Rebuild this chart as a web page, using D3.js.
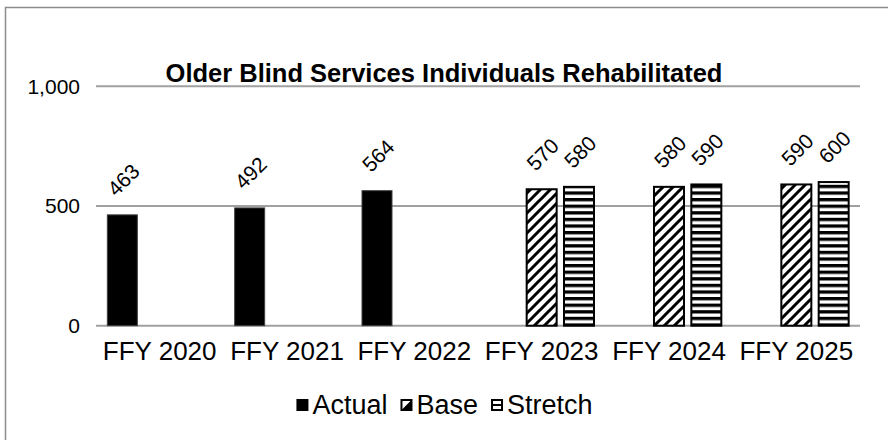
<!DOCTYPE html>
<html>
<head>
<meta charset="utf-8">
<script src="https://cdn.jsdelivr.net/npm/d3@7"></script>
<style>
  html, body { margin: 0; padding: 0; background: #fff; }
  svg { display: block; font-family: "Liberation Sans", Arial, sans-serif; }
</style>
</head>
<body>
<svg id="chart" width="888" height="440"></svg>
<script>
const title = "Older Blind Services Individuals Rehabilitated";
const categories = ["FFY 2020", "FFY 2021", "FFY 2022", "FFY 2023", "FFY 2024", "FFY 2025"];
const seriesNames = ["Actual", "Base", "Stretch"];
const actual = [463, 492, 564, null, null, null];
const base = [null, null, null, 570, 580, 590];
const stretch = [null, null, null, 580, 590, 600];
const yTicks = [0, 500, 1000];

const svg = d3.select("#chart");
const defs = svg.append("defs");

// patterns
const pBase = defs.append("pattern").attr("id", "pBase")
  .attr("patternUnits", "userSpaceOnUse").attr("width", 10).attr("height", 10);
pBase.append("rect").attr("width", 10).attr("height", 10).attr("fill", "#fff");
pBase.append("path").attr("d", "M-2,12 L12,-2 M-2,2 L2,-2 M8,12 L12,8")
  .attr("stroke", "#000").attr("stroke-width", 3);

const pStr = defs.append("pattern").attr("id", "pStretch")
  .attr("patternUnits", "userSpaceOnUse").attr("width", 10).attr("height", 6.6);
pStr.append("rect").attr("width", 10).attr("height", 6.6).attr("fill", "#fff");
pStr.append("rect").attr("width", 10).attr("height", 3.3).attr("fill", "#000");

// outer border
svg.append("rect").attr("x", 5.5).attr("y", 7.5).attr("width", 900).attr("height", 450)
  .attr("fill", "none").attr("stroke", "#8c8c8c").attr("stroke-width", 1.5);

// title
svg.append("text").attr("x", 444).attr("y", 82).attr("text-anchor", "middle")
  .attr("font-weight", "bold").attr("font-size", 25.5).attr("fill", "#000").text(title);

const x = d3.scaleBand().domain(categories).range([96, 860]);
const y = d3.scaleLinear().domain([0, 1000]).range([325.7, 86.3]);
const sub = d3.scaleBand().domain(seriesNames).range([-56, 56]);
const barW = 30;

// gridlines
svg.append("g").selectAll("line").data(yTicks).join("line")
  .attr("x1", 96).attr("x2", 860)
  .attr("y1", d => y(d)).attr("y2", d => y(d))
  .attr("stroke", "#a0a0a0").attr("stroke-width", 2);

// y axis
const yAxis = d3.axisLeft(y).tickValues(yTicks).tickSize(0).tickPadding(0)
  .tickFormat(d3.format(","));
const yg = svg.append("g").attr("transform", "translate(80,0)").call(yAxis);
yg.select(".domain").remove();
yg.selectAll("text").attr("font-size", 21).attr("fill", "#000")
  .attr("font-family", "Liberation Sans, Arial, sans-serif");

// x axis
const xAxis = d3.axisBottom(x).tickSize(0).tickPadding(0);
const xg = svg.append("g").attr("transform", "translate(0,342)").call(xAxis);
xg.select(".domain").remove();
xg.selectAll("text").attr("font-size", 26).attr("fill", "#000")
  .attr("font-family", "Liberation Sans, Arial, sans-serif");

const fills = { Actual: "#000", Base: "url(#pBase)", Stretch: "url(#pStretch)" };
const data = [];
categories.forEach((c, i) => {
  [["Actual", actual[i]], ["Base", base[i]], ["Stretch", stretch[i]]].forEach(([s, v]) => {
    if (v != null) data.push({ c, s, v });
  });
});

const cx = d => x(d.c) + x.bandwidth() / 2 + sub(d.s) + sub.bandwidth() / 2;

svg.append("g").selectAll("rect").data(data).join("rect")
  .attr("x", d => cx(d) - barW / 2)
  .attr("y", d => y(d.v))
  .attr("width", barW)
  .attr("height", d => y(0) - y(d.v))
  .attr("fill", d => fills[d.s])
  .attr("stroke", d => d.s === "Actual" ? "#404040" : "#000")
  .attr("stroke-width", d => d.s === "Actual" ? 1 : 2);

// labels
svg.append("g").selectAll("text").data(data).join("text")
  .attr("transform", d => `translate(${cx(d) + 1},${y(d.v) - 35}) rotate(-45)`)
  .attr("text-anchor", "middle").attr("dominant-baseline", "central")
  .attr("font-size", 21).attr("fill", "#000")
  .text(d => d3.format(",")(d.v));

// legend (laid out by measured text widths)
const lg = svg.append("g");
const ly = 405;
const iconW = 14, iconGap = 3, itemGap = 12;
let cursor = 0;
seriesNames.forEach(s => {
  const g = lg.append("g").attr("transform", `translate(${cursor},0)`);
  if (s === "Actual") {
    g.append("rect").attr("x", 1).attr("y", ly - 6).attr("width", 12).attr("height", 12).attr("fill", "#000");
  } else if (s === "Base") {
    g.append("rect").attr("x", 2).attr("y", ly - 5).attr("width", 10).attr("height", 10)
      .attr("fill", "#fff").attr("stroke", "#000").attr("stroke-width", 2);
    g.append("path").attr("d", `M12,${ly - 5} L12,${ly + 5} L2,${ly + 5} Z`).attr("fill", "#000");
  } else {
    g.append("rect").attr("x", 2).attr("y", ly - 5).attr("width", 10).attr("height", 10)
      .attr("fill", "#fff").attr("stroke", "#000").attr("stroke-width", 2);
    g.append("line").attr("x1", 2).attr("x2", 12).attr("y1", ly).attr("y2", ly)
      .attr("stroke", "#000").attr("stroke-width", 2);
  }
  const t = g.append("text").attr("x", iconW + iconGap).attr("y", ly).attr("dominant-baseline", "central")
    .attr("font-size", 27).attr("fill", "#000").text(s);
  cursor += iconW + iconGap + t.node().getComputedTextLength() + itemGap;
});
const total = cursor - itemGap;
lg.attr("transform", `translate(${444 - total / 2},0)`);
</script>
</body>
</html>
